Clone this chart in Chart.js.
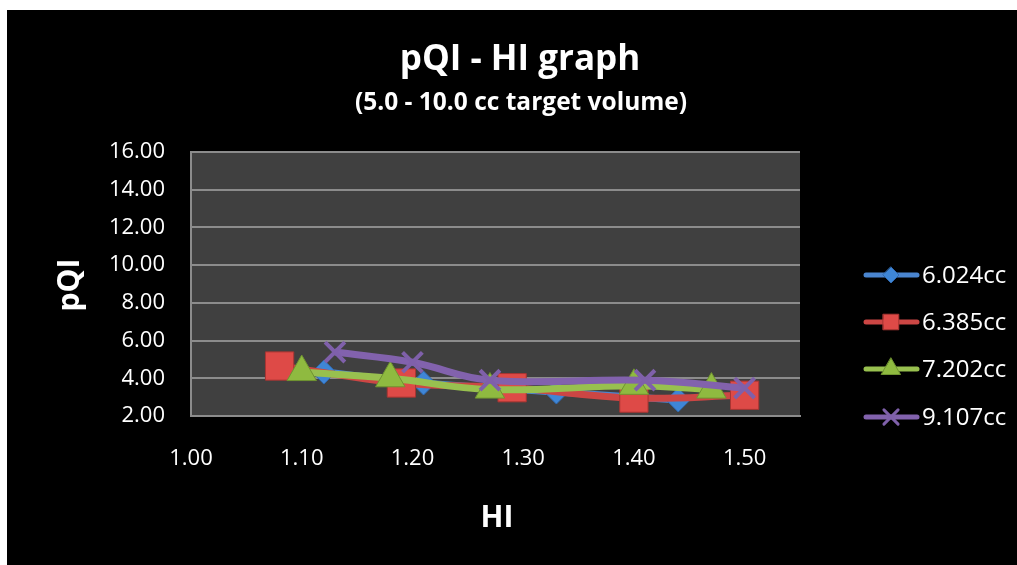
<!DOCTYPE html>
<html>
<head>
<meta charset="utf-8">
<script src="https://cdn.jsdelivr.net/npm/chart.js@4.4.1/dist/chart.umd.min.js"></script>
<style>
  html, body { margin: 0; padding: 0; background: #ffffff; width: 1017px; height: 565px; overflow: hidden; }
  #wrap { position: absolute; left: 7px; top: 10px; width: 1010px; height: 555px; background: #000000; }
  canvas { display: block; }
</style>
</head>
<body>
<div id="wrap"><canvas id="c" width="1010" height="555"></canvas></div>
<script>
// ---- data ----
const chartTitle = 'pQI - HI graph';
const chartSubtitle = '(5.0 - 10.0 cc target volume)';
const xAxisTitle = 'HI';
const yAxisTitle = 'pQI';
const seriesNames = ['6.024cc', '6.385cc', '7.202cc', '9.107cc'];

const hi6024 = [1.12, 1.21, 1.33, 1.44];
const pqi6024 = [4.33, 3.75, 3.27, 2.85];

const hi6385 = [1.08, 1.19, 1.29, 1.40, 1.50];
const pqi6385 = [4.65, 3.75, 3.50, 2.95, 3.10];

const hi7202 = [1.10, 1.18, 1.27, 1.40, 1.47];
const pqi7202 = [4.33, 4.00, 3.40, 3.60, 3.40];

const hi9107 = [1.13, 1.20, 1.27, 1.41, 1.50];
const pqi9107 = [5.39, 4.85, 3.90, 3.90, 3.48];

const xTickLabels = [1.00, 1.10, 1.20, 1.30, 1.40, 1.50];
const xAxisMin = 1.00, xAxisMax = 1.55;
const yTickLabels = [2.00, 4.00, 6.00, 8.00, 10.00, 12.00, 14.00, 16.00];

const FONT = '"Open Sans", "Noto Sans", "DejaVu Sans", sans-serif';

function pts(xs, ys) { return xs.map((x, i) => ({ x: x, y: ys[i] })); }

const styles = [
  { line: '#4a85cf', fill: '#3f86d6', border: '#2f68ae', shape: 'rectRot', r: 12, lr: 8 },
  { line: '#cc4644', fill: '#de4a47', border: '#a83532', shape: 'rect', r: 20, lr: 11 },
  { line: '#98c04f', fill: '#8fba40', border: '#6f9430', shape: 'triangle', r: 17, lr: 11 },
  { line: '#8262ad', fill: '#7f60aa', border: '#7f60aa', shape: 'crossRot', r: 14, lr: 10 }
];
const allX = [hi6024, hi6385, hi7202, hi9107];
const allY = [pqi6024, pqi6385, pqi7202, pqi9107];

const datasets = seriesNames.map((name, i) => ({
  label: name,
  data: pts(allX[i], allY[i]),
  showLine: true,
  borderColor: styles[i].line,
  borderWidth: 7,
  tension: 0.4,
  pointStyle: styles[i].shape,
  pointRadius: styles[i].r,
  pointHoverRadius: styles[i].r,
  pointBackgroundColor: styles[i].fill,
  pointBorderColor: styles[i].border,
  pointBorderWidth: i === 3 ? 4 : 1,
  order: 4 - i
}));

function drawMarker(ctx, shape, x, y, r, fill, border, bw) {
  ctx.save();
  ctx.fillStyle = fill; ctx.strokeStyle = border; ctx.lineWidth = bw;
  ctx.beginPath();
  if (shape === 'rectRot') {
    ctx.moveTo(x, y - r); ctx.lineTo(x + r, y); ctx.lineTo(x, y + r); ctx.lineTo(x - r, y); ctx.closePath();
    ctx.fill(); ctx.stroke();
  } else if (shape === 'rect') {
    const s = r * Math.SQRT1_2;
    ctx.rect(x - s, y - s, 2 * s, 2 * s); ctx.fill(); ctx.stroke();
  } else if (shape === 'triangle') {
    ctx.moveTo(x, y - r); ctx.lineTo(x + r * 0.866, y + r * 0.5); ctx.lineTo(x - r * 0.866, y + r * 0.5); ctx.closePath();
    ctx.fill(); ctx.stroke();
  } else if (shape === 'crossRot') {
    const s = r * Math.SQRT1_2;
    ctx.moveTo(x - s, y - s); ctx.lineTo(x + s, y + s); ctx.moveTo(x + s, y - s); ctx.lineTo(x - s, y + s);
    ctx.stroke();
  }
  ctx.restore();
}

const decor = {
  id: 'decor',
  beforeDraw(chart) {
    const { ctx, chartArea: a } = chart;
    ctx.save();
    ctx.fillStyle = '#404040';
    ctx.fillRect(a.left, a.top, a.right - a.left, a.bottom - a.top);
    ctx.restore();
  },
  afterDraw(chart) {
    const ctx = chart.ctx;
    ctx.save();
    ctx.fillStyle = '#ffffff';
    ctx.textAlign = 'center';
    ctx.textBaseline = 'middle';
    ctx.font = 'bold 35px ' + FONT;
    ctx.fillText(chartTitle, 513, 50);
    ctx.font = 'bold 24.5px ' + FONT;
    ctx.fillText(chartSubtitle, 514, 93);
    ctx.font = 'bold 30px ' + FONT;
    ctx.fillText(xAxisTitle, 490, 508);
    ctx.save();
    ctx.translate(63, 275);
    ctx.rotate(-Math.PI / 2);
    ctx.fillText(yAxisTitle, 0, 0);
    ctx.restore();
    // legend
    const rows = [265, 312, 359, 407];
    ctx.font = '24px ' + FONT;
    ctx.textAlign = 'left';
    seriesNames.forEach((name, i) => {
      const y = rows[i];
      const st = styles[i];
      ctx.strokeStyle = st.line; ctx.lineWidth = 5; ctx.lineCap = 'round';
      ctx.beginPath(); ctx.moveTo(859, y); ctx.lineTo(910, y); ctx.stroke();
      drawMarker(ctx, st.shape, 884, y, st.lr, st.fill, st.border, i === 3 ? 3 : 1);
      ctx.fillStyle = '#ffffff';
      ctx.fillText(name, 915, y + 1);
    });
    ctx.restore();
  }
};

new Chart(document.getElementById('c'), {
  type: 'scatter',
  data: { datasets: datasets },
  plugins: [decor],
  options: {
    responsive: false,
    animation: false,
    events: [],
    layout: { padding: { left: 0, right: 217, top: 142, bottom: 0 } },
    plugins: { legend: { display: false }, tooltip: { enabled: false }, title: { display: false } },
    scales: {
      x: {
        type: 'linear',
        min: xAxisMin, max: xAxisMax,
        afterFit(s) { s.height = 149; },
        afterBuildTicks(s) { s.ticks = xTickLabels.map(v => ({ value: v })); },
        grid: { display: false, drawTicks: false },
        border: { display: true, color: '#8c8c8c', width: 2 },
        ticks: {
          padding: 30,
          color: '#ffffff',
          font: { family: FONT, size: 22 },
          maxRotation: 0,
          autoSkip: false,
          callback: (v) => Number(v).toFixed(2)
        }
      },
      y: {
        type: 'linear',
        min: yTickLabels[0], max: yTickLabels[yTickLabels.length - 1],
        afterFit(s) { s.width = 184; },
        afterBuildTicks(s) { s.ticks = yTickLabels.map(v => ({ value: v })); },
        grid: { color: '#8c8c8c', lineWidth: 2, drawTicks: false },
        border: { display: true, color: '#8c8c8c', width: 2 },
        ticks: {
          padding: 26,
          color: '#ffffff',
          font: { family: FONT, size: 22 },
          callback: (v) => Number(v).toFixed(2)
        }
      }
    }
  }
});
</script>
</body>
</html>
